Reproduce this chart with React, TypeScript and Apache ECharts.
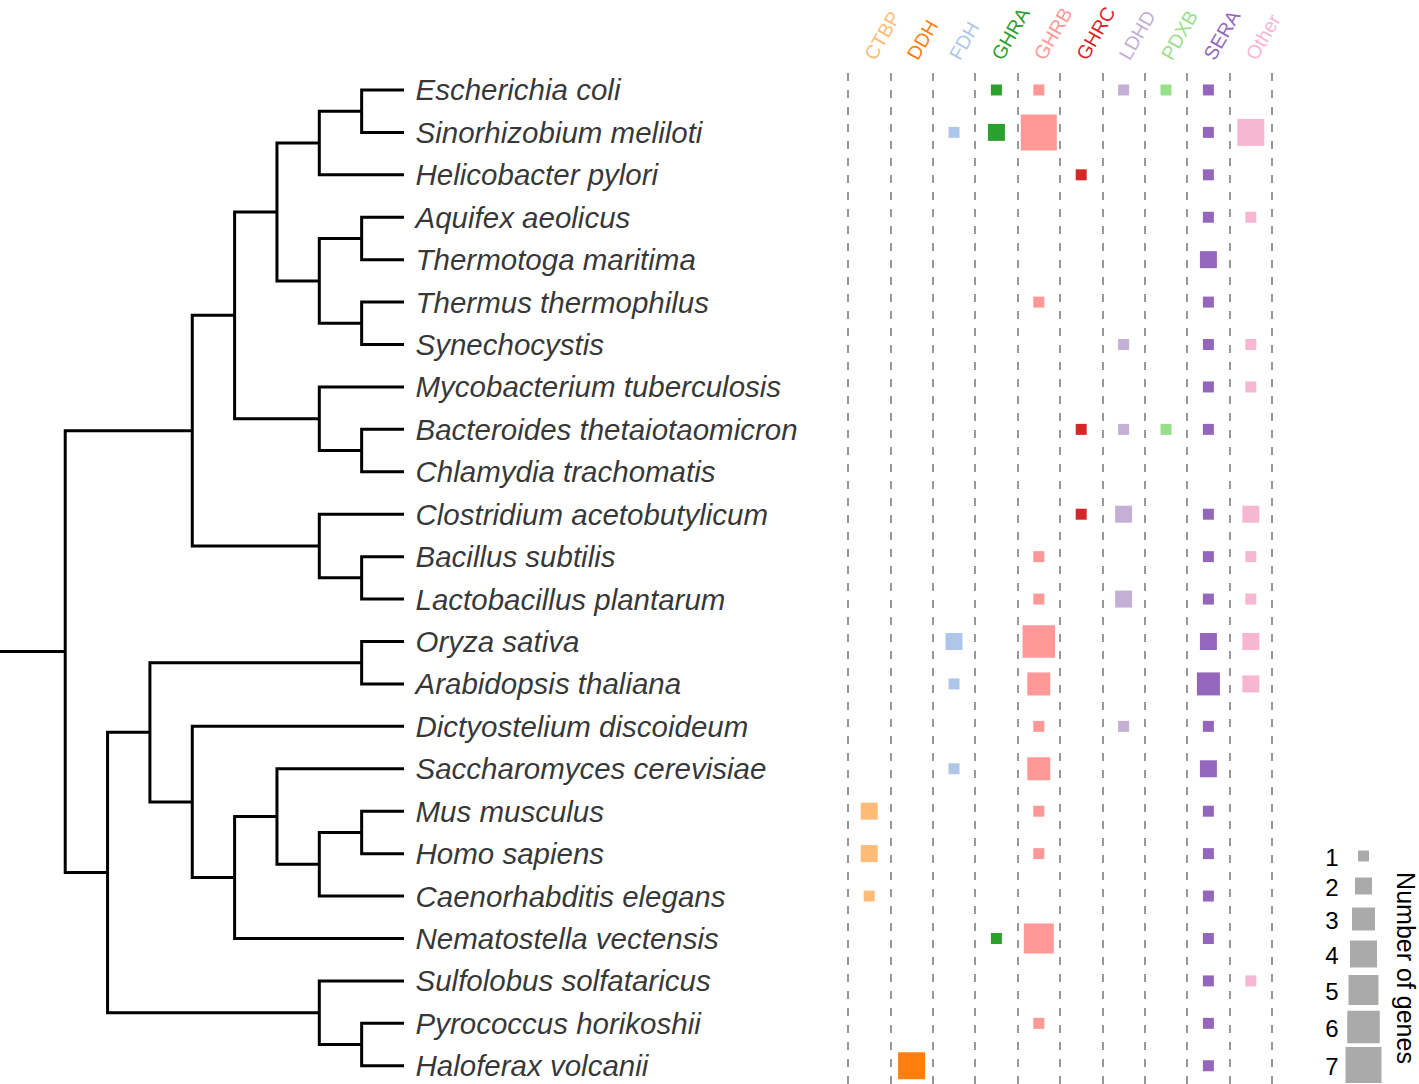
import React, { useEffect, useRef } from "react";
import * as echarts from "echarts";

const species = [
  "Escherichia coli", "Sinorhizobium meliloti", "Helicobacter pylori", "Aquifex aeolicus",
  "Thermotoga maritima", "Thermus thermophilus", "Synechocystis", "Mycobacterium tuberculosis",
  "Bacteroides thetaiotaomicron", "Chlamydia trachomatis", "Clostridium acetobutylicum",
  "Bacillus subtilis", "Lactobacillus plantarum", "Oryza sativa", "Arabidopsis thaliana",
  "Dictyostelium discoideum", "Saccharomyces cerevisiae", "Mus musculus", "Homo sapiens",
  "Caenorhabditis elegans", "Nematostella vectensis", "Sulfolobus solfataricus",
  "Pyrococcus horikoshii", "Haloferax volcanii",
];

const genes = ["CTBP", "DDH", "FDH", "GHRA", "GHRB", "GHRC", "LDHD", "PDXB", "SERA", "Other"];

// gene counts, in species order
const CTBP = [0, 0, 0, 0, 0, 0, 0, 0, 0, 0, 0, 0, 0, 0, 0, 0, 0, 2, 2, 1, 0, 0, 0, 0];
const DDH = [0, 0, 0, 0, 0, 0, 0, 0, 0, 0, 0, 0, 0, 0, 0, 0, 0, 0, 0, 0, 0, 0, 0, 4];
const FDH = [0, 1, 0, 0, 0, 0, 0, 0, 0, 0, 0, 0, 0, 2, 1, 0, 1, 0, 0, 0, 0, 0, 0, 0];
const GHRA = [1, 2, 0, 0, 0, 0, 0, 0, 0, 0, 0, 0, 0, 0, 0, 0, 0, 0, 0, 0, 1, 0, 0, 0];
const GHRB = [1, 7, 0, 0, 0, 1, 0, 0, 0, 0, 0, 1, 1, 6, 3, 1, 3, 1, 1, 0, 5, 0, 1, 0];
const GHRC = [0, 0, 1, 0, 0, 0, 0, 0, 1, 0, 1, 0, 0, 0, 0, 0, 0, 0, 0, 0, 0, 0, 0, 0];
const LDHD = [1, 0, 0, 0, 0, 0, 1, 0, 1, 0, 2, 0, 2, 0, 0, 1, 0, 0, 0, 0, 0, 0, 0, 0];
const PDXB = [1, 0, 0, 0, 0, 0, 0, 0, 1, 0, 0, 0, 0, 0, 0, 0, 0, 0, 0, 0, 0, 0, 0, 0];
const SERA = [1, 1, 1, 1, 2, 1, 1, 1, 1, 0, 1, 1, 1, 2, 3, 1, 2, 1, 1, 1, 1, 1, 1, 1];
const OTHER = [0, 4, 0, 1, 0, 0, 1, 1, 0, 0, 2, 1, 1, 2, 2, 0, 0, 0, 0, 0, 0, 1, 0, 0];

const geneCounts = [CTBP, DDH, FDH, GHRA, GHRB, GHRC, LDHD, PDXB, SERA, OTHER];

const legendCounts = [1, 2, 3, 4, 5, 6, 7];

// tree topology (leaves are species names)
const tree: any = [
  [
    [
      [
        [["Escherichia coli", "Sinorhizobium meliloti"], "Helicobacter pylori"],
        [["Aquifex aeolicus", "Thermotoga maritima"], ["Thermus thermophilus", "Synechocystis"]],
      ],
      ["Mycobacterium tuberculosis", ["Bacteroides thetaiotaomicron", "Chlamydia trachomatis"]],
    ],
    ["Clostridium acetobutylicum", ["Bacillus subtilis", "Lactobacillus plantarum"]],
  ],
  [
    [
      ["Oryza sativa", "Arabidopsis thaliana"],
      [
        "Dictyostelium discoideum",
        [
          ["Saccharomyces cerevisiae", [["Mus musculus", "Homo sapiens"], "Caenorhabditis elegans"]],
          "Nematostella vectensis",
        ],
      ],
    ],
    ["Sulfolobus solfataricus", ["Pyrococcus horikoshii", "Haloferax volcanii"]],
  ],
];

// ---- styles / layout ----
const GENE_COLORS = [
  "#ffbb78", "#ff7f0e", "#aec7e8", "#2ca02c", "#ff9896",
  "#d62728", "#c5b0d5", "#98df8a", "#9467bd", "#f7b6d2",
];
const SIZE_BY_COUNT = [0, 11, 17, 23, 27, 30, 32.5, 36];
const FONT = "'Liberation Sans', Arial, Helvetica, sans-serif";
const Y_MIN = -0.4;
const Y_MAX = 23.43;
const X_MIN = -1.54;
const LEGEND_Y = [856, 886, 919, 954, 990, 1027, 1065];

function height(node: any): number {
  if (typeof node === "string") return 0;
  return Math.max(...node.map(height)) + 1;
}
const MAXH = height(tree);

function layoutTree() {
  const polys: number[][] = [];
  function walk(node: any): { x: number; y: number } {
    if (typeof node === "string") return { x: MAXH, y: species.indexOf(node) };
    const kids = node.map(walk);
    const x = MAXH - height(node);
    const first = kids[0];
    const last = kids[kids.length - 1];
    polys.push([first.x, first.y, x, first.y, x, last.y, last.x, last.y]);
    for (let k = 1; k < kids.length - 1; k++) {
      polys.push([kids[k].x, kids[k].y, x, kids[k].y, x, kids[k].y, x, kids[k].y]);
    }
    return { x, y: (first.y + last.y) / 2 };
  }
  const root = walk(tree);
  polys.push([X_MIN, root.y, X_MIN, root.y, root.x, root.y, root.x, root.y]);
  return polys;
}

export default function App() {
  const ref = useRef<HTMLDivElement>(null);
  useEffect(() => {
    if (!ref.current) return;
    const chart = echarts.init(ref.current, null, { renderer: "svg" });
    const polys = layoutTree();

    const geneSeries = genes.map((g, gi) => ({
      type: "scatter",
      name: g,
      xAxisIndex: 1,
      yAxisIndex: 1,
      symbol: "rect",
      symbolSize: (v: number[]) => SIZE_BY_COUNT[v[2]],
      itemStyle: { color: GENE_COLORS[gi], opacity: 1 },
      data: geneCounts[gi]
        .map((c, si) => (c > 0 ? [gi, si, c] : null))
        .filter((d) => d !== null),
      z: 3,
    }));

    const graphics: any[] = [];
    legendCounts.forEach((n, i) => {
      const s = SIZE_BY_COUNT[n];
      graphics.push({
        type: "text",
        x: 1332,
        y: LEGEND_Y[i] + 1,
        style: {
          text: String(n),
          fontSize: 24,
          fontFamily: FONT,
          fill: "#000",
          align: "center",
          verticalAlign: "middle",
        },
      });
      graphics.push({
        type: "rect",
        shape: { x: 1363.5 - s / 2, y: LEGEND_Y[i] - s / 2, width: s, height: s },
        style: { fill: "#a9aaa9" },
      });
    });
    graphics.push({
      type: "text",
      x: 1406,
      y: 968,
      rotation: -Math.PI / 2,
      style: {
        text: "Number of genes",
        fontSize: 25,
        fontFamily: FONT,
        fill: "#000",
        align: "center",
        verticalAlign: "middle",
      },
    });

    chart.setOption({
      animation: false,
      backgroundColor: "#fff",
      textStyle: { fontFamily: FONT },
      grid: [
        { left: 0, top: 73, width: 404, height: 1011, outerBoundsMode: "none", containLabel: false },
        { left: 848, top: 73, width: 424, height: 1011, outerBoundsMode: "none", containLabel: false },
      ],
      xAxis: [
        { type: "value", gridIndex: 0, min: X_MIN, max: MAXH, show: false },
        {
          type: "category",
          gridIndex: 1,
          data: genes,
          position: "top",
          boundaryGap: true,
          axisLine: { show: false },
          axisTick: { show: false },
          splitLine: {
            show: true,
            interval: 0,
            lineStyle: { type: [8, 9], color: "#777", width: 1.5 },
          },
          axisLabel: {
            interval: 0,
            rotate: 60,
            margin: 15,
            fontSize: 19.5,
            fontFamily: FONT,
            color: (_v: any, i: number) => GENE_COLORS[i],
          },
        },
      ],
      yAxis: [
        { type: "value", gridIndex: 0, min: Y_MIN, max: Y_MAX, inverse: true, show: false },
        { type: "value", gridIndex: 1, min: Y_MIN, max: Y_MAX, inverse: true, show: false },
      ],
      series: [
        {
          type: "custom",
          xAxisIndex: 0,
          yAxisIndex: 0,
          clip: false,
          data: polys,
          renderItem: (_p: any, api: any) => {
            const pts = [0, 1, 2, 3].map((k) => api.coord([api.value(2 * k), api.value(2 * k + 1)]));
            return {
              type: "polyline",
              shape: { points: pts },
              style: { stroke: "#000", lineWidth: 3, fill: null, lineJoin: "miter" },
            };
          },
          z: 2,
        },
        {
          type: "scatter",
          xAxisIndex: 0,
          yAxisIndex: 0,
          symbolSize: 1,
          itemStyle: { color: "rgba(0,0,0,0)" },
          data: species.map((s, i) => ({ name: s, value: [MAXH, i] })),
          label: {
            show: true,
            position: "right",
            distance: 11,
            formatter: (p: any) => p.name,
            fontStyle: "italic",
            fontSize: 29.5,
            fontFamily: FONT,
            color: "#000",
          },
          z: 3,
        },
        ...geneSeries,
      ],
      graphic: graphics,
    });
    return () => chart.dispose();
  }, []);
  return (
    <div
      ref={ref}
      style={{ position: "fixed", left: 0, top: 0, width: 1419, height: 1084, background: "#fff" }}
    />
  );
}
